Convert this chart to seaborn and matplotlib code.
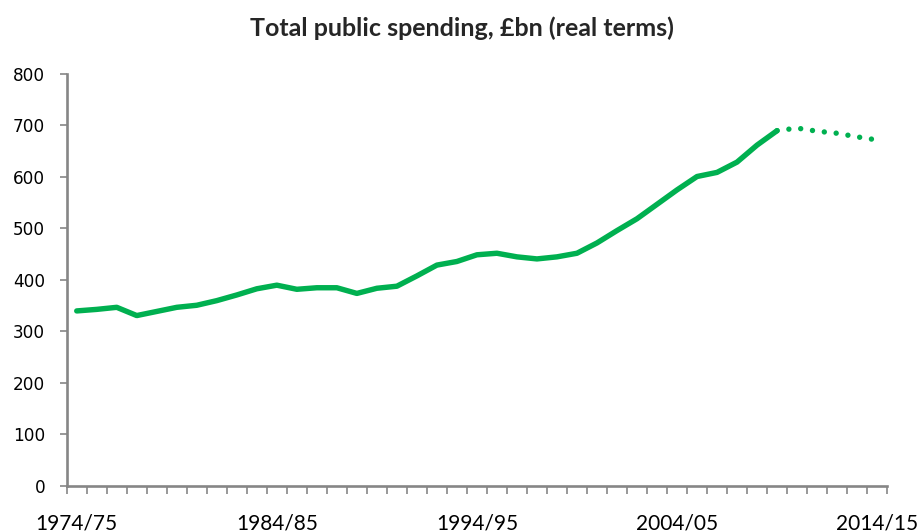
import numpy as np
import pandas as pd
import matplotlib
matplotlib.use("Agg")
import matplotlib.pyplot as plt
import seaborn as sns

# Financial years 1974/75 .. 2014/15
start_years = list(range(1974, 2015))
year_labels = [f"{y}/{(y + 1) % 100:02d}" for y in start_years]

# Outturn, £bn real terms, 1974/75 .. 2009/10
outturn = [339, 342, 346, 330, 338, 346, 350, 359, 370, 382,
           389, 381, 384, 384, 373, 383, 387, 407, 428, 435,
           448, 451, 444, 440, 444, 451, 471, 495, 518, 546,
           574, 600, 608, 628, 661, 689]

# Plans, £bn real terms, 2009/10 .. 2014/15
plans = [689, 694, 688, 684, 677, 671]

tick_labels = ["1974/75", "1984/85", "1994/95", "2004/05", "2014/15"]

GREEN = "#00B050"
AXIS_GREY = "#868686"

pos = {lab: i for i, lab in enumerate(year_labels)}
df_out = pd.DataFrame({"year": year_labels[:len(outturn)], "spend": outturn})
df_out["x"] = df_out["year"].map(pos)
df_plan = pd.DataFrame({"year": year_labels[len(outturn) - 1:], "spend": plans})
df_plan["x"] = df_plan["year"].map(pos)

sns.set_style("white")
plt.rcParams["font.family"] = ["DejaVu Sans"]

fig = plt.figure(figsize=(9.19, 5.32), dpi=100)
ax = fig.add_axes([0.0726, 0.0874, 0.8927, 0.7744])

sns.lineplot(data=df_out, x="x", y="spend", ax=ax, color=GREEN,
             linewidth=3.9, solid_capstyle="round", solid_joinstyle="round")
sns.lineplot(data=df_plan, x="x", y="spend", ax=ax, color=GREEN,
             linewidth=3.9, linestyle=(0, (0.001, 2.2)), dash_capstyle="round")

ax.set_xlim(-0.5, len(year_labels) - 0.5)
ax.set_ylim(0, 800)
ax.set_yticks(np.arange(0, 801, 100))
ax.set_xticks([pos[t] for t in tick_labels])
ax.set_xticklabels(tick_labels, family=["Lato", "DejaVu Sans"], fontsize=15)
ax.set_xticks(np.arange(-0.5, len(year_labels), 1), minor=True)
ax.set_xlabel("")
ax.set_ylabel("")

for s in ("top", "right"):
    ax.spines[s].set_visible(False)
for s in ("left", "bottom"):
    ax.spines[s].set_color(AXIS_GREY)
    ax.spines[s].set_linewidth(1.9)

ax.tick_params(axis="x", which="major", length=0, pad=20, colors="black")
ax.tick_params(axis="x", which="minor", length=5.5, width=1.2,
               color=AXIS_GREY, direction="out", bottom=True)
ax.tick_params(axis="y", which="major", length=5, width=1.2, color=AXIS_GREY,
               direction="out", left=True, pad=10.5, labelsize=12.2,
               labelcolor="black")

fig.text(0.503, 1 - 36 / 532, "Total public spending, £bn (real terms)",
         ha="center", va="baseline", fontsize=18, fontweight="bold",
         family=["Lato", "DejaVu Sans"])

fig.savefig("out.png", dpi=100)
